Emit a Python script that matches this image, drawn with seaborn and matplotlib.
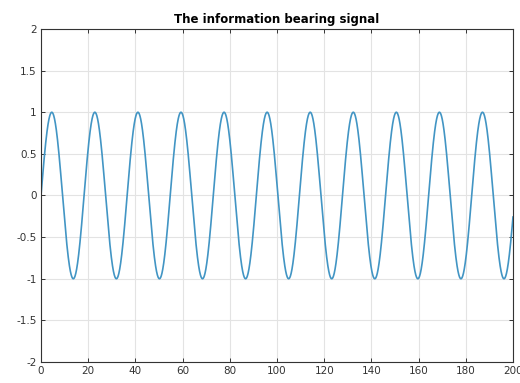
import numpy as np
import pandas as pd
import matplotlib
matplotlib.use("Agg")
import matplotlib.pyplot as plt
import seaborn as sns

# ---- data ----
title = "The information bearing signal"
t_start, t_end = 0, 200          # time span shown
amplitude = 1.0                   # peaks at +1, troughs at -1
period = 18.25                    # peak-to-peak spacing
x_ticks = [0, 20, 40, 60, 80, 100, 120, 140, 160, 180, 200]
y_ticks = [-2, -1.5, -1, -0.5, 0, 0.5, 1, 1.5, 2]
y_tick_labels = ["-2", "-1.5", "-1", "-0.5", "0", "0.5", "1", "1.5", "2"]

t = np.linspace(t_start, t_end, 4001)
signal = amplitude * np.sin(2 * np.pi * t / period)
df = pd.DataFrame({"t": t, "m": signal})

sns.set_theme(style="white")
plt.rcParams["font.family"] = ["DejaVu Sans"]

fig = plt.figure(figsize=(5.2, 3.83), dpi=100)
ax = fig.add_axes([41 / 520, 1 - 362 / 383, (513 - 41) / 520, (362 - 29) / 383])

sns.lineplot(data=df, x="t", y="m", ax=ax, color="#4295c4", linewidth=1.2)

ax.set_xlim(t_start, t_end)
ax.set_ylim(-2, 2)
ax.set_xticks(x_ticks)
ax.set_xticklabels([str(v) for v in x_ticks])
ax.set_yticks(y_ticks)
ax.set_yticklabels(y_tick_labels)
ax.set_xlabel("")
ax.set_ylabel("")
ax.grid(True, color="#e3e3e3", linewidth=0.8)
ax.set_axisbelow(True)
for s in ax.spines.values():
    s.set_visible(True)
    s.set_color("#333333")
    s.set_linewidth(0.8)
ax.tick_params(direction="in", length=3, width=0.7, colors="#333333",
               labelsize=7.5, labelcolor="#333333",
               top=True, right=True, bottom=True, left=True, pad=3)
ax.set_title(title, fontsize=8.5, fontweight="bold", color="black", pad=4)

fig.savefig("out.png", dpi=100)
